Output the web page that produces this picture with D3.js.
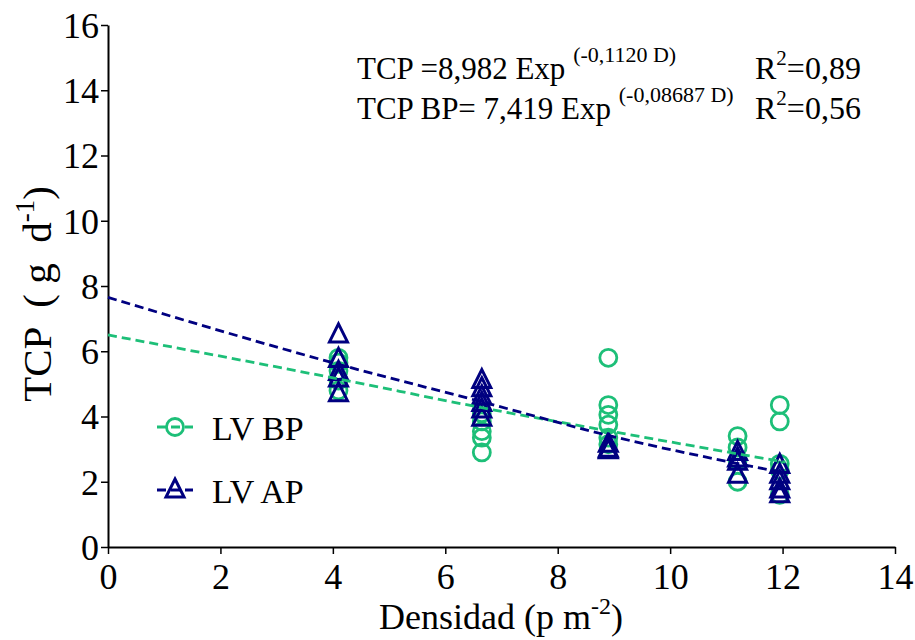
<!DOCTYPE html>
<html>
<head>
  <meta charset="utf-8">
  <script src="https://d3js.org/d3.v7.min.js"></script>
  <style>
    body { margin: 0; background: #fff; }
    text { font-family: "Liberation Serif", "Times New Roman", serif; fill: #000; }
  </style>
</head>
<body>
<script>
// density levels (x) and TCP values
var bpX = [4.1, 4.1, 4.1, 4.1, 4.1,
           6.65, 6.65, 6.65, 6.65, 6.65,
           8.9, 8.9, 8.9, 8.9, 8.9, 8.9,
           11.2, 11.2, 11.2, 11.2,
           11.95, 11.95, 11.95, 11.95, 11.95];
var bpY = [5.8, 5.65, 5.4, 5.1, 4.8,
           4.1, 3.85, 3.55, 3.35, 2.9,
           5.8, 4.35, 4.05, 3.75, 3.35, 3.15,
           3.4, 3.05, 2.65, 2.0,
           4.35, 3.85, 2.55, 2.35, 1.6];

var apX = [4.1, 4.1, 4.1, 4.1, 4.1,
           6.65, 6.65, 6.65, 6.65, 6.65, 6.65,
           8.9, 8.9, 8.9,
           11.2, 11.2, 11.2, 11.2,
           11.95, 11.95, 11.95, 11.95, 11.95];
var apY = [6.5, 5.75, 5.35, 5.15, 4.7,
           5.1, 4.85, 4.6, 4.4, 4.2, 3.95,
           3.15, 3.0, 2.95,
           2.9, 2.7, 2.6, 2.2,
           2.5, 2.2, 2.0, 1.75, 1.6];

// fitted curves as drawn in the picture
var fitNames = ["LV BP", "LV AP"];
var fitX = [0, 4.1, 6.65, 8.9, 12.05];
var fitBP = [6.5, 5.15, 4.27, 3.56, 2.6];
var fitAP = [7.65, 5.6, 4.45, 3.42, 2.27];

var xTicks = [0, 2, 4, 6, 8, 10, 12, 14];
var yTicks = [0, 2, 4, 6, 8, 10, 12, 14, 16];

var green = "#1dbf78", navy = "#000080";

var W = 915, H = 640;
var svg = d3.select("body").append("svg").attr("width", W).attr("height", H);

var x = d3.scaleLinear().domain([0, 14]).range([108, 895]);
var y = d3.scaleLinear().domain([0, 16]).range([547, 25]);

// axes
var xAxis = svg.append("g").attr("transform", "translate(0,547)")
  .call(d3.axisBottom(x).tickValues(xTicks).tickSize(7).tickPadding(7).tickSizeOuter(0));
var yAxis = svg.append("g").attr("transform", "translate(108,0)")
  .call(d3.axisLeft(y).tickValues(yTicks).tickSize(7).tickPadding(2).tickSizeOuter(0));
[xAxis, yAxis].forEach(function (a) {
  a.select(".domain").attr("stroke", "#000").attr("stroke-width", 2);
  a.selectAll(".tick line").attr("stroke", "#000").attr("stroke-width", 1.5);
  a.selectAll(".tick text").style("font-family", "Liberation Serif").style("font-size", "36px").attr("fill", "#000");
});
xAxis.selectAll(".tick text").attr("dy", "0.78em");
yAxis.selectAll(".tick text").attr("dy", "0.34em");

// axis titles
var xt = svg.append("text").attr("x", 501).attr("y", 629).attr("text-anchor", "middle").style("font-size", "36px");
xt.append("tspan").text("Densidad (p m");
xt.append("tspan").attr("dy", -15).style("font-size", "24px").text("-2");
xt.append("tspan").attr("dy", 15).text(")");

var yt = svg.append("text").attr("transform", "translate(51,294) rotate(-90)").attr("text-anchor", "middle")
  .style("font-size", "41px").style("white-space", "pre");
yt.append("tspan").text("TCP  ( g  d");
yt.append("tspan").attr("dy", -17).style("font-size", "27px").text("-1");
yt.append("tspan").attr("dy", 17).text(")");

// markers
function triangle() { return "M0,-11L9,7L-9,7Z"; }

svg.append("g").selectAll("circle").data(bpX).join("circle")
  .attr("cx", function (d) { return x(d); })
  .attr("cy", function (d, i) { return y(bpY[i]); })
  .attr("r", 8.5).attr("fill", "none").attr("stroke", green).attr("stroke-width", 2.8);

svg.append("g").selectAll("path").data(apX).join("path")
  .attr("d", triangle)
  .attr("transform", function (d, i) { return "translate(" + x(d) + "," + y(apY[i]) + ")"; })
  .attr("fill", "none").attr("stroke", navy).attr("stroke-width", 3);

// fitted lines
var colors = [green, navy];
[fitBP, fitAP].forEach(function (vals, j) {
  svg.append("path").datum(vals)
    .attr("d", d3.line().curve(d3.curveMonotoneX)
      .x(function (v, i) { return x(fitX[i]); }).y(function (v) { return y(v); }))
    .attr("fill", "none").attr("stroke", colors[j]).attr("stroke-width", 2.8)
    .attr("stroke-dasharray", "9,5");
});

// legend
var legY = [427, 490];
fitNames.forEach(function (n, j) {
  var g = svg.append("g").attr("transform", "translate(175," + legY[j] + ")");
  g.append("line").attr("x1", -18).attr("x2", 18).attr("stroke", colors[j]).attr("stroke-width", 2.8).attr("stroke-dasharray", "9,5");
  if (j === 0) g.append("circle").attr("r", 8.5).attr("fill", "none").attr("stroke", green).attr("stroke-width", 2.8);
  else g.append("path").attr("d", triangle).attr("fill", "none").attr("stroke", navy).attr("stroke-width", 3);
  svg.append("text").attr("x", 212).attr("y", legY[j] + 13).style("font-size", "34px").text(n);
});

// equations
function eq(yy, lead, sup, r2) {
  var t = svg.append("text").attr("x", 357).attr("y", yy).style("font-size", "31px");
  t.append("tspan").text(lead);
  t.append("tspan").attr("dy", -17).style("font-size", "22px").text(sup);
  var r = svg.append("text").attr("x", 755).attr("y", yy).style("font-size", "32px");
  r.append("tspan").text("R");
  r.append("tspan").attr("dy", -14).style("font-size", "21px").text("2");
  r.append("tspan").attr("dy", 14).text("=" + r2);
}
eq(79, "TCP =8,982 Exp ", "(-0,1120 D)", "0,89");
eq(119, "TCP BP= 7,419 Exp ", "(-0,08687 D)", "0,56");
</script>
</body>
</html>
